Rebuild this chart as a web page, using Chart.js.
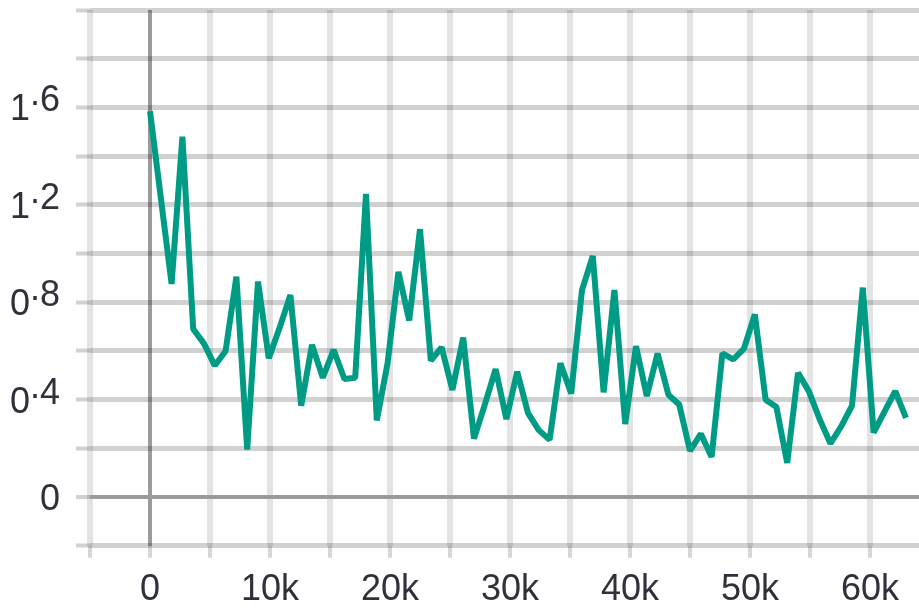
<!DOCTYPE html>
<html lang="en">
  <head>
    <meta charset="UTF-8" />
    <title>loss</title>
    <script src="https://cdn.jsdelivr.net/npm/chart.js"></script>
    <style>
      body {
        margin: 0;
        background: #fff;
      }
    </style>
  </head>
  <body>
    <canvas id="myChart" width="919" height="611"></canvas>
    <script>
      // training steps (x) and loss values (y)
      const steps = [
        0, 900, 1800, 2700, 3600, 4500, 5400, 6300, 7200, 8100,
        9000, 9900, 10800, 11700, 12600, 13500, 14400, 15300, 16200, 17100,
        18000, 18900, 19800, 20700, 21600, 22500, 23400, 24300, 25200, 26100,
        27000, 27900, 28800, 29700, 30600, 31500, 32400, 33300, 34200, 35100,
        36000, 36900, 37800, 38700, 39600, 40500, 41400, 42300, 43200, 44100,
        45000, 45900, 46800, 47700, 48600, 49500, 50400, 51300, 52200, 53100,
        54000, 54900, 55800, 56700, 57600, 58500, 59400, 60300, 61200, 62100,
        63000,
      ];
      const lossValues = [
        1.585, 1.23, 0.875, 1.48, 0.69, 0.63, 0.54, 0.6, 0.905, 0.195,
        0.885, 0.57, 0.695, 0.83, 0.375, 0.625, 0.49, 0.605, 0.485, 0.49,
        1.245, 0.315, 0.55, 0.925, 0.725, 1.1, 0.56, 0.615, 0.44, 0.655,
        0.24, 0.38, 0.525, 0.32, 0.515, 0.345, 0.275, 0.235, 0.55, 0.425,
        0.85, 0.99, 0.43, 0.85, 0.3, 0.62, 0.415, 0.59, 0.42, 0.38,
        0.19, 0.26, 0.165, 0.59, 0.565, 0.61, 0.75, 0.4, 0.37, 0.14,
        0.51, 0.435, 0.32, 0.22, 0.29, 0.375, 0.86, 0.265, 0.35, 0.435,
        0.325,
      ];
      // grid positions and the ones that get a label
      const xTicks = [
        -5000, 0, 5000, 10000, 15000, 20000, 25000, 30000, 35000, 40000,
        45000, 50000, 55000, 60000,
      ];
      const xLabelSteps = [0, 10000, 20000, 30000, 40000, 50000, 60000];
      const yTicks = [-0.2, 0, 0.2, 0.4, 0.6, 0.8, 1.0, 1.2, 1.4, 1.6, 1.8, 2.0];
      const yLabels = ["0", "0.4", "0.8", "1.2", "1.6"];

      const textColor = "#30303d";
      const font = '"Liberation Sans", Arial, sans-serif';

      // y labels: decimal part sits a bit higher than the integer part
      const yLabelPlugin = {
        id: "yLabels",
        afterDraw(chart) {
          const c = chart.ctx;
          const y = chart.scales.y;
          c.save();
          c.font = "36px " + font;
          c.fillStyle = textColor;
          c.textAlign = "left";
          c.textBaseline = "alphabetic";
          yLabels.forEach(function (label) {
            const py = y.getPixelForValue(parseFloat(label));
            const base = py + 13;
            const parts = label.split(".");
            const intW = c.measureText(parts[0]).width;
            const dotW = parts[1] ? c.measureText(".").width : 0;
            const fracW = parts[1] ? c.measureText(parts[1]).width : 0;
            const x0 = 60 - (intW + dotW + fracW);
            c.fillText(parts[0], x0, base);
            if (parts[1]) {
              c.fillText(".", x0 + intW, base - 15);
              c.fillText(parts[1], x0 + intW + dotW, base - 9);
            }
          });
          c.restore();
        },
      };

      const points = steps.map(function (s, i) {
        return { x: s, y: lossValues[i] };
      });

      const isZero = function (ctx) {
        return ctx.tick && Math.abs(ctx.tick.value) < 1e-9;
      };

      new Chart(document.getElementById("myChart"), {
        type: "line",
        data: {
          datasets: [
            {
              data: points,
              borderColor: "#009b84",
              borderWidth: 6,
              borderJoinStyle: "bevel",
              pointRadius: 0,
              tension: 0,
              fill: false,
            },
          ],
        },
        options: {
          responsive: false,
          animation: false,
          layout: {
            padding: { left: 76, top: 10, right: 0, bottom: -12 },
          },
          plugins: {
            legend: { display: false },
            tooltip: { enabled: false },
          },
          scales: {
            x: {
              type: "linear",
              bounds: "data",
              min: -5000,
              max: 64083,
              afterBuildTicks: function (scale) {
                scale.ticks = xTicks.map(function (v) {
                  return { value: v };
                });
              },
              border: { display: false },
              grid: {
                color: function (ctx) {
                  return isZero(ctx) ? "#9b9b9b" : "rgba(0,0,0,0.11)";
                },
                lineWidth: function (ctx) {
                  return isZero(ctx) ? 4 : 6;
                },
                tickColor: "rgba(0,0,0,0.16)",
                tickWidth: 4,
                tickLength: 12,
              },
              ticks: {
                autoSkip: false,
                maxRotation: 0,
                padding: 11,
                color: textColor,
                font: { family: font, size: 36 },
                callback: function (value) {
                  if (!xLabelSteps.includes(value)) return "";
                  return value === 0 ? "0" : value / 1000 + "k";
                },
              },
            },
            y: {
              type: "linear",
              bounds: "data",
              min: -0.2,
              max: 2.0,
              afterBuildTicks: function (scale) {
                scale.ticks = yTicks.map(function (v) {
                  return { value: v };
                });
              },
              border: { display: false },
              grid: {
                color: function (ctx) {
                  return isZero(ctx) ? "#9b9b9b" : "rgba(0,0,0,0.18)";
                },
                lineWidth: function (ctx) {
                  return isZero(ctx) ? 4 : 5;
                },
                tickColor: "rgba(0,0,0,0.18)",
                tickWidth: 4,
                tickLength: 14,
              },
              ticks: {
                display: false,
              },
            },
          },
        },
        plugins: [yLabelPlugin],
      });
    </script>
  </body>
</html>
